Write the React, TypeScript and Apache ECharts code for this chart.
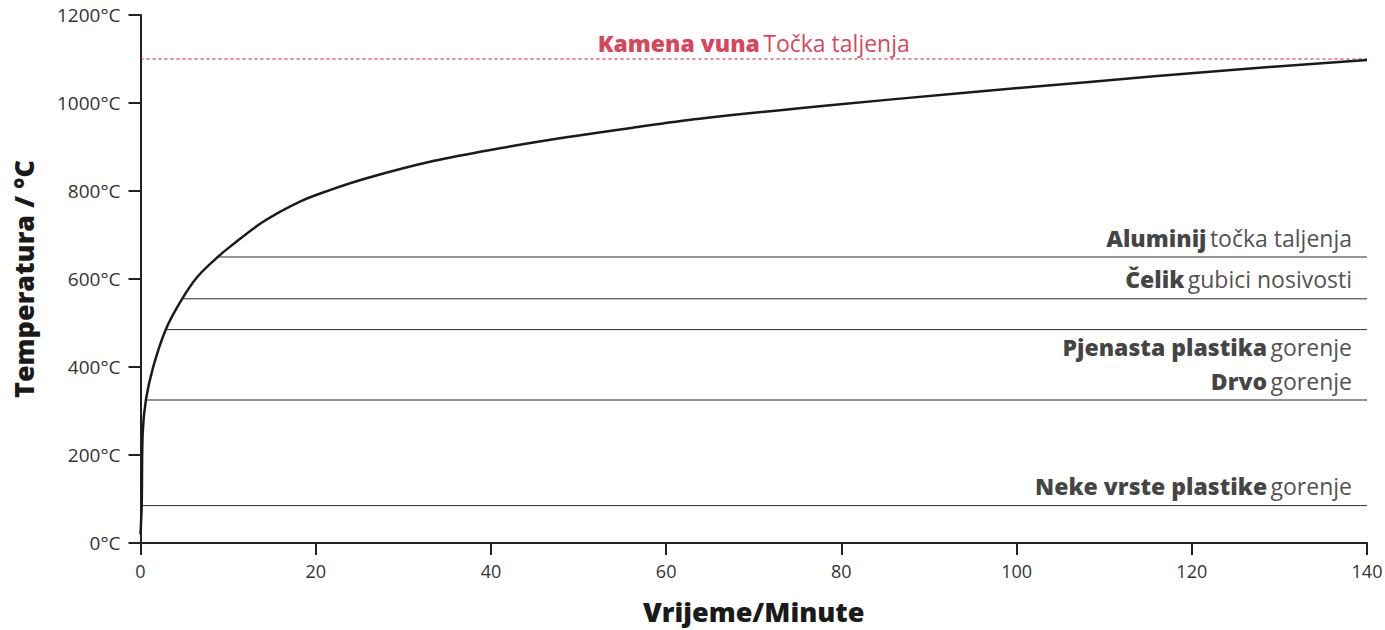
import React, { useEffect, useRef } from "react";
import * as echarts from "echarts";

// Fire curve (time in minutes, temperature in °C)
const curveTime = [0, 0.14, 0.25, 0.63, 1.46, 2.9, 4.7, 6.5, 8.76, 10.2, 14, 18.2, 21.6, 25.8, 33.4, 41, 48.6, 56.2, 63.8, 78.7, 93.5, 108.3, 123.1, 140];
const curveTemp = [20, 90, 250, 327, 401, 486, 553, 605, 649, 673, 730, 776, 802, 829, 868, 897, 922, 944, 964, 995, 1022, 1048, 1073, 1098];

// Material thresholds
const thresholdBold = ["Aluminij", "Čelik", "Pjenasta plastika", "Drvo", "Neke vrste plastike"];
const thresholdText = ["točka taljenja", "gubici nosivosti", "gorenje", "gorenje", "gorenje"];
const thresholdTemp = [650, 555, 485, 325, 85];
const thresholdStart = [8.8, 4.75, 2.9, 0.63, 0.1];
const thresholdLabelBelow = [false, false, true, false, false];

const woolBold = "Kamena vuna";
const woolText = "Točka taljenja";
const woolTemp = 1100;
const woolLabelTime = 70;

const xMin = 0;
const xMax = 140;
const xInterval = 20;
const yMin = 0;
const yMax = 1200;
const yInterval = 200;

const FONT = "'Open Sans', 'Noto Sans', sans-serif";
const RED = "#d0102f";

export default function App() {
  const ref = useRef<HTMLDivElement>(null);

  useEffect(() => {
    if (!ref.current) return;
    const chart = echarts.init(ref.current, undefined, { renderer: "svg" });

    const series: any[] = [];

    series.push({
      type: "line",
      data: curveTime.map((t, i) => [t, curveTemp[i]]),
      showSymbol: false,
      smooth: 0.35,
      lineStyle: { color: "#1a1a1a", width: 2.5 },
      z: 5,
    });

    thresholdTemp.forEach((v, i) => {
      series.push({
        type: "line",
        data: [
          [thresholdStart[i], v],
          [xMax, v],
        ],
        showSymbol: false,
        lineStyle: { color: "#2a2a2a", width: 1 },
        z: 3,
      });
      series.push({
        type: "scatter",
        data: [[xMax, v]],
        symbolSize: 1,
        itemStyle: { color: "rgba(0,0,0,0)" },
        label: {
          show: true,
          position: thresholdLabelBelow[i] ? "bottom" : "top",
          distance: thresholdLabelBelow[i] ? 5 : 7,
          align: "right",
          offset: [-15, 0],
          formatter: `{b|${thresholdBold[i]}} {r|${thresholdText[i]}}`,
          rich: {
            b: { fontFamily: FONT, fontWeight: 800, fontSize: 23, color: "#111", lineHeight: 24 },
            r: { fontFamily: FONT, fontWeight: "normal", fontSize: 23, color: "#222", lineHeight: 24 },
          },
        },
        z: 6,
      });
    });

    series.push({
      type: "line",
      data: [
        [xMin, woolTemp],
        [xMax, woolTemp],
      ],
      showSymbol: false,
      lineStyle: { color: RED, width: 1, type: [3, 3] },
      z: 2,
    });
    series.push({
      type: "scatter",
      data: [[woolLabelTime, woolTemp]],
      symbolSize: 1,
      itemStyle: { color: "rgba(0,0,0,0)" },
      label: {
        show: true,
        position: "top",
        distance: 4,
        formatter: `{b|${woolBold}} {r|${woolText}}`,
        rich: {
          b: { fontFamily: FONT, fontWeight: 800, fontSize: 23, color: RED, lineHeight: 24 },
          r: { fontFamily: FONT, fontWeight: "normal", fontSize: 23, color: RED, lineHeight: 24 },
        },
      },
    });

    chart.setOption({
      animation: false,
      grid: { left: 140.5, right: 18, top: 15, bottom: 87, containLabel: false, outerBoundsMode: "none" },
      xAxis: {
        type: "value",
        min: xMin,
        max: xMax,
        interval: xInterval,
        name: "Vrijeme/Minute",
        nameLocation: "middle",
        nameGap: 55,
        nameTextStyle: { fontFamily: FONT, fontWeight: 800, fontSize: 27, color: "#1a1a1a" },
        axisLine: { show: true, onZero: false, lineStyle: { color: "#222", width: 2 } },
        axisTick: { show: true, length: 12, lineStyle: { color: "#222", width: 2 } },
        axisLabel: { fontFamily: FONT, fontSize: 18, color: "#333", margin: 19 },
        splitLine: { show: false },
      },
      yAxis: {
        type: "value",
        min: yMin,
        max: yMax,
        interval: yInterval,
        name: "Temperatura / °C",
        nameLocation: "middle",
        nameGap: 104,
        nameTextStyle: { fontFamily: FONT, fontWeight: 800, fontSize: 27, color: "#1a1a1a" },
        axisLine: { show: true, lineStyle: { color: "#222", width: 2 } },
        axisTick: { show: true, length: 12, lineStyle: { color: "#222", width: 2 } },
        axisLabel: {
          fontFamily: FONT,
          fontSize: 19,
          color: "#333",
          margin: 20,
          formatter: (v: number) => `${v}°C`,
        },
        splitLine: { show: false },
      },
      series,
    });

    return () => chart.dispose();
  }, []);

  return (
    <div
      ref={ref}
      style={{ position: "fixed", left: 0, top: 0, width: 1385, height: 630, background: "#fff" }}
    />
  );
}
